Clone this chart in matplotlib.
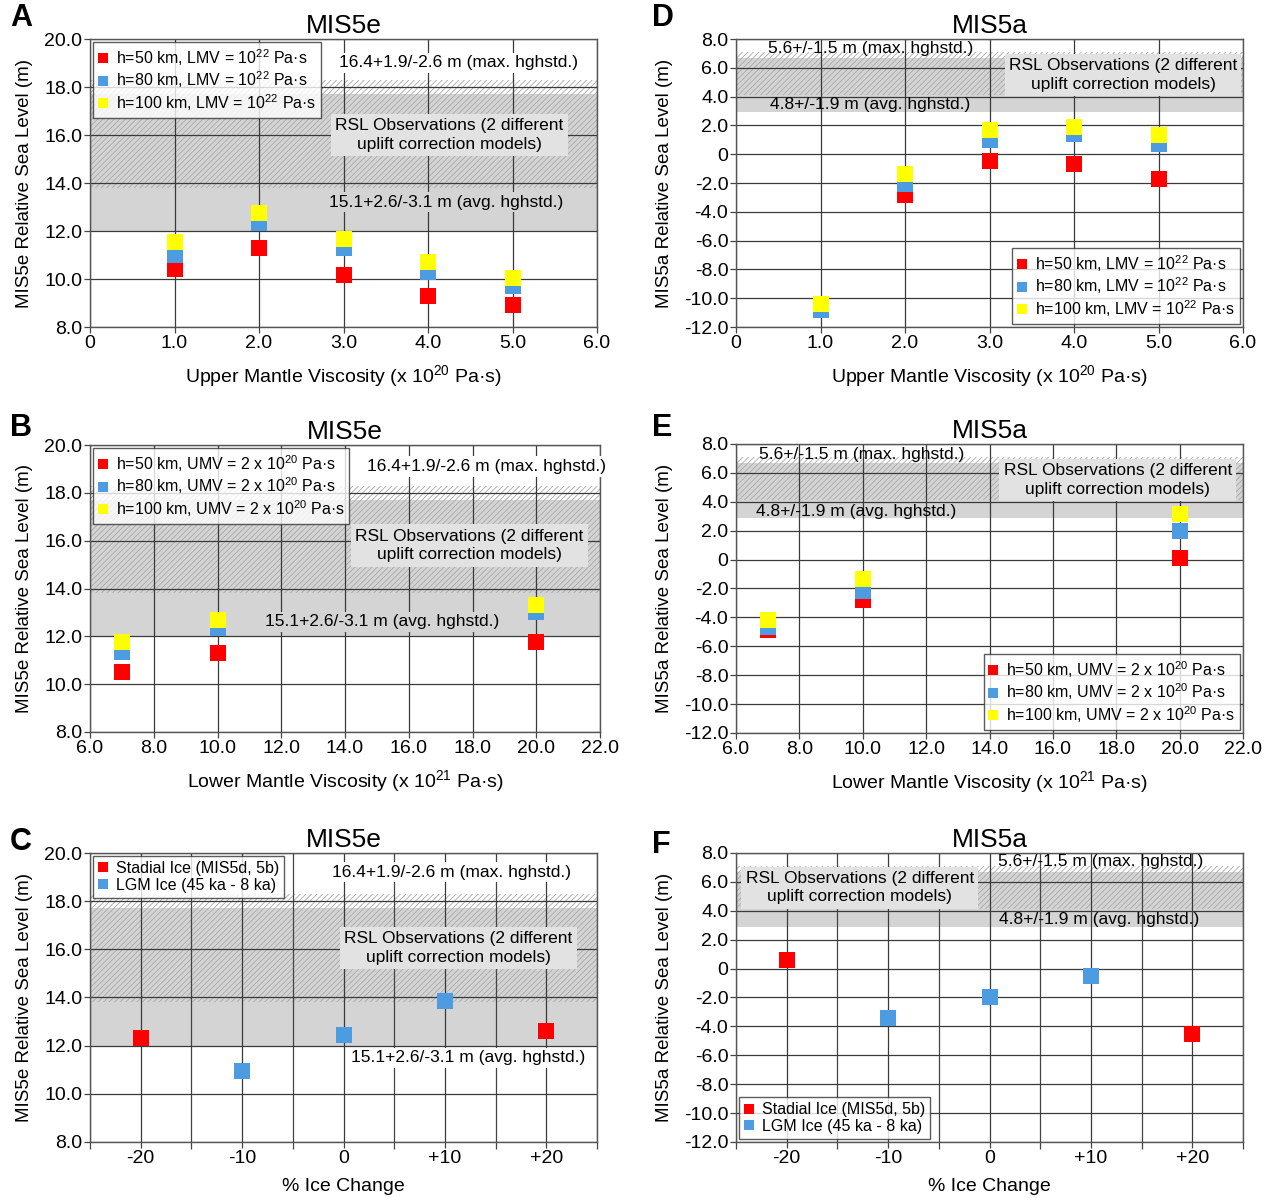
import matplotlib
matplotlib.use("Agg")
import matplotlib.pyplot as plt
from matplotlib.lines import Line2D

plt.rcParams['font.family'] = ['Liberation Sans', 'DejaVu Sans']
plt.rcParams['mathtext.fontset'] = 'custom'
plt.rcParams['mathtext.rm'] = 'Liberation Sans'
plt.rcParams['mathtext.it'] = 'Liberation Sans:italic'
plt.rcParams['axes.unicode_minus'] = False
plt.rcParams['hatch.linewidth'] = 0.6
plt.rcParams['hatch.color'] = '#a8a8a8'

# ---------------- data ----------------
umv = [1.0, 2.0, 3.0, 4.0, 5.0]
lmv = [7.0, 10.0, 20.0]
ice_stadial_x = [-20, 20]
ice_lgm_x = [-10, 0, 10]

# Panel A: MIS5e vs upper mantle viscosity
a_h50 = [10.4, 11.3, 10.15, 9.3, 8.9]
a_h80 = [11.0, 12.35, 11.3, 10.3, 9.7]
a_h100 = [11.55, 12.75, 11.65, 10.7, 10.05]
# Panel D: MIS5a vs upper mantle viscosity
d_h50 = [-10.8, -2.8, -0.5, -0.7, -1.7]
d_h80 = [-10.85, -2.1, 1.0, 1.4, 0.7]
d_h100 = [-10.4, -1.4, 1.7, 1.9, 1.3]
# Panel B: MIS5e vs lower mantle viscosity
b_h50 = [10.5, 11.3, 11.75]
b_h80 = [11.35, 12.35, 13.0]
b_h100 = [11.75, 12.7, 13.3]
# Panel E: MIS5a vs lower mantle viscosity
e_h50 = [-4.85, -2.8, 0.1]
e_h80 = [-4.65, -2.15, 2.0]
e_h100 = [-4.2, -1.35, 3.15]
# Panel C: MIS5e vs % ice change
c_stadial = [12.3, 12.6]
c_lgm = [10.95, 12.45, 13.85]
# Panel F: MIS5a vs % ice change
f_stadial = [0.6, -4.5]
f_lgm = [-3.4, -1.95, -0.5]

# RSL observations (central, plus, minus)
mis5e_max = (16.4, 1.9, 2.6)
mis5e_avg = (15.1, 2.6, 3.1)
mis5a_max = (5.6, 1.5, 1.5)
mis5a_avg = (4.8, 1.9, 1.9)

RED = '#ff0000'
BLUE = '#4d9be0'
YEL = '#ffff00'

W, H = 1267, 1198
fig = plt.figure(figsize=(W / 100, H / 100), dpi=100)


def add_ax(x0, x1, ytop, ybot):
    return fig.add_axes([x0 / W, 1 - ybot / H, (x1 - x0) / W, (ybot - ytop) / H])


def fmt(v):
    return '0' if abs(v) < 1e-9 else f'{v:.1f}'


def style(ax, xlim, xticks, ylim, yticks, xlabel, ylabel, title, xticklabels=None, minor=None):
    ax.set_xlim(*xlim)
    ax.set_ylim(*ylim)
    ax.set_xticks(xticks)
    ax.set_xticklabels(xticklabels if xticklabels is not None else [fmt(v) for v in xticks])
    if minor is not None:
        ax.set_xticks(minor, minor=True)
        ax.grid(True, which='minor', axis='x', color='#444444', lw=0.9)
        ax.tick_params(axis='x', which='minor', length=5, width=0.9, color='#444444', direction='out')
    ax.set_yticks(yticks)
    ax.set_yticklabels([fmt(v) for v in yticks])
    ax.grid(True, which='major', color='#3a3a3a', lw=0.9)
    ax.tick_params(axis='both', which='major', labelsize=14, length=4, width=0.9,
                   color='#444444', direction='out', pad=1.5)
    for s in ax.spines.values():
        s.set_color('#555555')
        s.set_linewidth(1.0)
    ax.set_xlabel(xlabel, fontsize=14, labelpad=8)
    ax.set_ylabel(ylabel, fontsize=13.5, labelpad=8)
    ax.set_title(title, fontsize=19, pad=4)


def bands(ax, xlim, mx, av):
    ax.fill_between(xlim, av[0] - av[2], av[0] + av[1], color='#d4d4d4', lw=0, zorder=1)
    ax.fill_between(xlim, mx[0] - mx[2], mx[0] + mx[1], facecolor='none', hatch='//////',
                    edgecolor='#a8a8a8', lw=0, zorder=1.1)


def labels(ax, mxpos, rslpos, avgpos, mxtxt, avgtxt, mxbg, avgbg):
    bb = dict(boxstyle='square,pad=0.15', lw=0)
    ax.text(*mxpos, mxtxt, ha='center', va='center', fontsize=12.5, zorder=3,
            bbox=dict(bb, fc=mxbg) if mxbg else None)
    ax.text(*rslpos, 'RSL Observations (2 different\nuplift correction models)', ha='center',
            va='center', fontsize=12.5, zorder=3, linespacing=1.3,
            bbox=dict(boxstyle='square,pad=0.25', lw=0, fc='#e2e2e2'))
    ax.text(*avgpos, avgtxt, ha='center', va='center', fontsize=12.5, zorder=3,
            bbox=dict(bb, fc=avgbg) if avgbg else None)


def pts(ax, x, y, c):
    ax.plot(x, y, ls='none', marker='s', ms=11.5, mfc=c, mec=c, mew=0, zorder=2.5)


def legend(ax, entries, loc, anchor):
    hs = [Line2D([], [], ls='none', marker='s', ms=7.5, mfc=c, mec=c, mew=0) for c, _ in entries]
    lg = ax.legend(hs, [t for _, t in entries], loc=loc, bbox_to_anchor=anchor, fontsize=11.5,
                   handlelength=0.6, handletextpad=0.5, borderpad=0.3, labelspacing=0.12,
                   frameon=True, fancybox=False, borderaxespad=0.2)
    lg.get_frame().set_edgecolor('#333333')
    lg.get_frame().set_linewidth(1.0)
    lg.set_zorder(5)


MAX5E = '16.4+1.9/-2.6 m (max. hghstd.)'
AVG5E = '15.1+2.6/-3.1 m (avg. hghstd.)'
MAX5A = '5.6+/-1.5 m (max. hghstd.)'
AVG5A = '4.8+/-1.9 m (avg. hghstd.)'
YL5E = 'MIS5e Relative Sea Level (m)'
YL5A = 'MIS5a Relative Sea Level (m)'
XL_UMV = 'Upper Mantle Viscosity (x 10$^{20}$ Pa·s)'
XL_LMV = 'Lower Mantle Viscosity (x 10$^{21}$ Pa·s)'
XL_ICE = '% Ice Change'

y5e = [8.0, 10.0, 12.0, 14.0, 16.0, 18.0, 20.0]
y5a = [-12.0, -10.0, -8.0, -6.0, -4.0, -2.0, 0.0, 2.0, 4.0, 6.0, 8.0]
xu = [0.0, 1.0, 2.0, 3.0, 4.0, 5.0, 6.0]
xl = [6.0, 8.0, 10.0, 12.0, 14.0, 16.0, 18.0, 20.0, 22.0]
xi = [-20, -10, 0, 10, 20]
xi_lab = ['-20', '-10', '0', '+10', '+20']
xi_minor = [-25, -15, -5, 5, 15, 25]

lmv_leg = ['h=50 km, LMV = 10$^{22}$ Pa·s', 'h=80 km, LMV = 10$^{22}$ Pa·s',
           'h=100 km, LMV = 10$^{22}$ Pa·s']
umv_leg = ['h=50 km, UMV = 2 x 10$^{20}$ Pa·s', 'h=80 km, UMV = 2 x 10$^{20}$ Pa·s',
           'h=100 km, UMV = 2 x 10$^{20}$ Pa·s']
ice_leg = ['Stadial Ice (MIS5d, 5b)', 'LGM Ice (45 ka - 8 ka)']

# ---- A ----
ax = add_ax(90, 597, 39, 327)
style(ax, (0, 6), xu, (8, 20), y5e, XL_UMV, YL5E, 'MIS5e')
bands(ax, (0, 6), mis5e_max, mis5e_avg)
labels(ax, (4.36, 19.0), (4.25, 16.0), (4.22, 13.2), MAX5E, AVG5E, 'white', '#d4d4d4')
pts(ax, umv, a_h50, RED); pts(ax, umv, a_h80, BLUE); pts(ax, umv, a_h100, YEL)
legend(ax, list(zip([RED, BLUE, YEL], lmv_leg)), 'upper left', (0.0, 1.0))

# ---- D ----
ax = add_ax(736, 1243, 39, 327)
style(ax, (0, 6), xu, (-12, 8), y5a, XL_UMV, YL5A, 'MIS5a')
bands(ax, (0, 6), mis5a_max, mis5a_avg)
labels(ax, (1.59, 7.37), (4.58, 5.5), (1.59, 3.42), MAX5A, AVG5A, None, None)
pts(ax, umv, d_h50, RED); pts(ax, umv, d_h80, BLUE); pts(ax, umv, d_h100, YEL)
legend(ax, list(zip([RED, BLUE, YEL], lmv_leg)), 'lower right', (1.0, 0.0))

# ---- B ----
ax = add_ax(90, 600, 445, 732)
style(ax, (6, 22), xl, (8, 20), y5e, XL_LMV, YL5E, 'MIS5e')
bands(ax, (6, 22), mis5e_max, mis5e_avg)
labels(ax, (18.45, 19.1), (17.9, 15.8), (15.15, 12.6), MAX5E, AVG5E, 'white', '#d4d4d4')
pts(ax, lmv, b_h50, RED); pts(ax, lmv, b_h80, BLUE); pts(ax, lmv, b_h100, YEL)
legend(ax, list(zip([RED, BLUE, YEL], umv_leg)), 'upper left', (0.0, 1.0))

# ---- E ----
ax = add_ax(736, 1243, 444, 733)
style(ax, (6, 22), xl, (-12, 8), y5a, XL_LMV, YL5A, 'MIS5a')
bands(ax, (6, 22), mis5a_max, mis5a_avg)
labels(ax, (9.97, 7.24), (18.05, 5.5), (9.8, 3.35), MAX5A, AVG5A, None, None)
pts(ax, lmv, e_h50, RED); pts(ax, lmv, e_h80, BLUE); pts(ax, lmv, e_h100, YEL)
legend(ax, list(zip([RED, BLUE, YEL], umv_leg)), 'lower right', (1.0, 0.0))

# ---- C ----
ax = add_ax(90, 597, 853, 1142)
style(ax, (-25, 25), xi, (8, 20), y5e, XL_ICE, YL5E, 'MIS5e', xi_lab, xi_minor)
bands(ax, (-25, 25), mis5e_max, mis5e_avg)
labels(ax, (10.7, 19.2), (11.3, 16.05), (12.3, 11.5), MAX5E, AVG5E, 'white', 'white')
pts(ax, ice_stadial_x, c_stadial, RED); pts(ax, ice_lgm_x, c_lgm, BLUE)
legend(ax, list(zip([RED, BLUE], ice_leg)), 'upper left', (0.0, 1.0))

# ---- F ----
ax = add_ax(736, 1243, 853, 1142)
style(ax, (-25, 25), xi, (-12, 8), y5a, XL_ICE, YL5A, 'MIS5a', xi_lab, xi_minor)
bands(ax, (-25, 25), mis5a_max, mis5a_avg)
labels(ax, (11.0, 7.38), (-12.8, 5.6), (10.8, 3.4), MAX5A, AVG5A, None, None)
pts(ax, ice_stadial_x, f_stadial, RED); pts(ax, ice_lgm_x, f_lgm, BLUE)
legend(ax, list(zip([RED, BLUE], ice_leg)), 'lower left', (0.0, 0.0))

# panel letters
for letter, (px, py) in {'A': (10, 18), 'D': (652, 18), 'B': (10, 428),
                         'E': (652, 428), 'C': (10, 842), 'F': (652, 845)}.items():
    fig.text(px / W, 1 - py / H, letter, fontsize=22, fontweight='bold', va='center', ha='left')

fig.savefig('out.png', dpi=100)
